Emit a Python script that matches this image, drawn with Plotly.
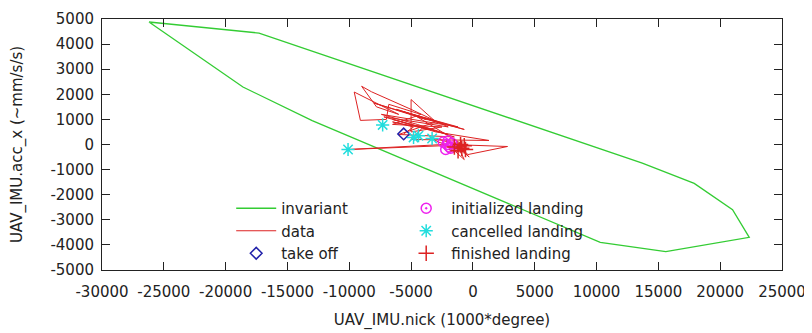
import plotly.graph_objects as go

# invariant polygon
inv_x = [-26200, -17300, 13700, 17900, 21000, 22350, 15600, 10300, -13000, -18600, -26200]
inv_y = [4880, 4440, -740, -1550, -2600, -3700, -4270, -3900, 950, 2290, 4880]

# data trajectory
data_x = [-5600, -4800, -6500, -3500, -7200, -2000, -5000, -8200, -9000, -7800, -6000, -9600, -9100,
          -7000, -6800, -4200, -6500, -2500, -5000, -5000, -3000, -6000, -1500, -4000, -5000, 1300,
          -3000, -6500, -2000, -4500, -7400, -1200, -5600, -3800, -8000, -2600, -6200, -700, -4500,
          -500, -3500, -2800, -1000, -2200, -800, -1800, 2800, -400, -1500,
          -300, -1200, -2000, -1000, -700, -1600, -1300, -600, -2400, -10100, -2000, -1500, -800,
          -1900, -1200, -700, -1400]
data_y = [420, 700, 900, 600, 1100, 700, 1400, 2100, 2320, 1500, 1200, 2090, 960,
          1000, 1600, 1200, 800, 700, 500, 1790, 900, 400, 300, 700, 200, 160,
          500, 1000, 400, 800, 1200, 700, 1300, 1000, 1650, 850, 1400, 600, 1100,
          -100, 300, 100, -200, 200, -300, 0, -80, -400, 100,
          -500, -100, -200, -300, -600, -200, 100, -100, 0, -200, -40, -300, 0,
          -100, -250, -150, -50]

takeoff_x = [-5600]
takeoff_y = [420]

init_x = [-2400, -2100, -1900, -1700, -2200, -1800, -2000]
init_y = [100, 0, -100, 50, -200, -150, 150]

cancel_x = [-10100, -7300, -4800, -4400, -3300]
cancel_y = [-200, 780, 280, 350, 240]

finish_x = [-1500, -1200, -900, -700, -1000, -600]
finish_y = [-100, -250, -150, -50, 0, -200]

xtick_vals = list(range(-30000, 25001, 5000))
ytick_vals = list(range(-5000, 5001, 1000))

font = dict(family="DejaVu Sans", size=15, color="#222222")

fig = go.Figure()
fig.add_trace(go.Scatter(x=inv_x, y=inv_y, mode="lines", name="invariant",
                         line=dict(color="#33cc33", width=1.3), legend="legend"))
fig.add_trace(go.Scatter(x=data_x, y=data_y, mode="lines", name="data",
                         line=dict(color="#dd2222", width=1), legend="legend"))
fig.add_trace(go.Scatter(x=takeoff_x, y=takeoff_y, mode="markers", name="take off",
                         marker=dict(symbol="diamond-open", size=9, color="#2222aa",
                                     line=dict(width=1.5)), legend="legend"))
fig.add_trace(go.Scatter(x=init_x, y=init_y, mode="markers", name="initialized landing",
                         marker=dict(symbol="circle-open-dot", size=10, color="#ee22ee",
                                     line=dict(width=1.5)), legend="legend2"))
fig.add_trace(go.Scatter(x=cancel_x, y=cancel_y, mode="markers", name="cancelled landing",
                         marker=dict(symbol="asterisk-open", size=11, color="#22dddd",
                                     line=dict(width=1.5, color="#22dddd")), legend="legend2"))
fig.add_trace(go.Scatter(x=finish_x, y=finish_y, mode="markers", name="finished landing",
                         marker=dict(symbol="cross-thin-open", size=11, color="#dd2222",
                                     line=dict(width=1.5, color="#dd2222")), legend="legend2"))

axis_common = dict(showline=True, linecolor="#222222", linewidth=1, mirror="allticks",
                   ticks="inside", ticklen=8, tickcolor="#222222", showgrid=False,
                   zeroline=False, tickfont=font, automargin=False)

fig.update_xaxes(range=[-30000, 25000], tickvals=xtick_vals, ticktext=[str(v) for v in xtick_vals],
                 ticklabelstandoff=8,
                 title=dict(text="UAV_IMU.nick (1000*degree)", font=font, standoff=14), **axis_common)
fig.update_yaxes(range=[-5000, 5000], tickvals=ytick_vals, ticktext=[str(v) for v in ytick_vals],
                 ticklabelstandoff=4,
                 title=dict(text="UAV_IMU.acc_x (~mm/s/s)", font=font, standoff=24), **axis_common)

legend_common = dict(bgcolor="rgba(0,0,0,0)", font=font, tracegroupgap=0,
                     itemwidth=40, xanchor="left", yanchor="bottom")
fig.update_layout(
    width=804, height=325,
    margin=dict(l=94, r=30, t=11, b=63),
    paper_bgcolor="white", plot_bgcolor="white",
    font=font,
    legend=dict(x=0.19, y=0.0, **legend_common),
    legend2=dict(x=0.44, y=0.0, **legend_common),
)

fig.write_html("out.html")
